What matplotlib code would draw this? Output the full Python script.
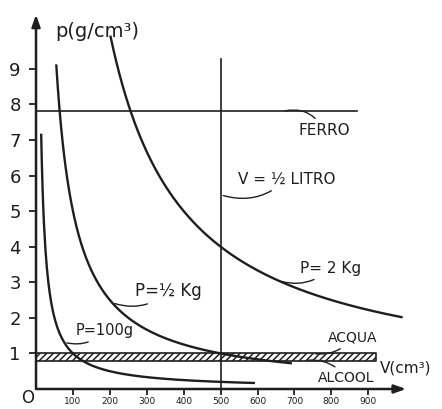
import numpy as np
import matplotlib
matplotlib.use("Agg")
import matplotlib.pyplot as plt

# Densità p = P / V per tre pesi diversi
weights_g = [100, 500, 2000]
weight_labels = ["P=100g", "P=½ Kg", "P= 2 Kg"]
v_start = [14, 55, 202]      # cm³
v_end = [590, 690, 990]      # cm³

ferro = 7.8      # g/cm³
acqua = 1.0
alcool = 0.8
band_end = 920
mezzo_litro = 500

x_ticks = [100, 200, 300, 400, 500, 600, 700, 800, 900]
y_ticks = [1, 2, 3, 4, 5, 6, 7, 8, 9]

ink = "#1e1e1e"
plt.rcParams["font.family"] = ["DejaVu Sans"]
plt.rcParams["hatch.linewidth"] = 1.1
plt.rcParams["hatch.color"] = ink

fig = plt.figure(figsize=(4.42, 4.09), dpi=100)
ax = fig.add_axes([0.0815, 0.0489, 0.925 - 0.0815, 0.971 - 0.0489])
xmax, ymax = 1010, 10.6
ax.set_xlim(0, xmax)
ax.set_ylim(0, ymax)
for s in ax.spines.values():
    s.set_visible(False)

# assi con freccia
ax.annotate("", xy=(0, ymax), xytext=(0, -0.08),
            arrowprops=dict(arrowstyle="-|>,head_length=0.7,head_width=0.25",
                            color=ink, lw=1.8), annotation_clip=False)
ax.annotate("", xy=(xmax, 0), xytext=(-5, 0),
            arrowprops=dict(arrowstyle="-|>,head_length=0.7,head_width=0.25",
                            color=ink, lw=1.8), annotation_clip=False)

ax.set_xticks(x_ticks)
ax.set_xticklabels([str(t) for t in x_ticks], fontsize=6.5, color=ink)
ax.set_yticks(y_ticks)
ax.set_yticklabels([str(t) for t in y_ticks], fontsize=13, color=ink)
ax.tick_params(axis="x", direction="out", length=4, width=1.3, pad=1.5, colors=ink)
ax.tick_params(axis="y", direction="out", length=5, width=1.3, pad=6, colors=ink)
ax.text(-22, -0.24, "O", fontsize=12, color=ink, ha="center", va="center",
        clip_on=False)

# banda acqua / alcool
ax.fill_between([0, band_end], alcool, acqua, facecolor="white",
                edgecolor=ink, hatch="/////", lw=1.2)

# linea del ferro
ax.plot([0, 870], [ferro, ferro], color=ink, lw=1.2)
# mezzo litro
ax.plot([mezzo_litro, mezzo_litro], [0, 9.27], color=ink, lw=1.2)

# iperboli p = P / V
for P, v0, v1 in zip(weights_g, v_start, v_end):
    v = np.linspace(v0, v1, 300)
    ax.plot(v, P / v, color=ink, lw=1.7)

lead = dict(arrowstyle="-", color=ink, lw=1.0, connectionstyle="arc3,rad=0.35")
fs = 11

def note(text, xy, xytext, rad=0.35, **kw):
    ax.annotate(text, xy=xy, xytext=xytext, fontsize=kw.pop("fontsize", fs),
                color=ink, va="center", ha="left",
                arrowprops=dict(lead, connectionstyle=f"arc3,rad={rad}"), **kw)

note("FERRO", (667, ferro), (710, 7.26), rad=0.4)
note("V = ½ LITRO", (mezzo_litro, 5.46), (547, 5.9), rad=-0.3)
note(weight_labels[2], (656, 2000 / 656), (715, 3.4), rad=-0.3)
note(weight_labels[1], (206, 500 / 206), (268, 2.75), rad=-0.3, fontsize=12)
note(weight_labels[0], (76, 100 / 76), (108, 1.64), rad=-0.3, fontsize=10.5)
note("ACQUA", (750, acqua), (790, 1.45), rad=-0.3, fontsize=10)
note("ALCOOL", (729, alcool), (764, 0.3), rad=0.3, fontsize=10)

ax.text(932, 0.6, "V(cm³)", fontsize=11, color=ink, va="center", ha="left",
        clip_on=False)
ax.text(51, 10.05, "p(g/cm³)", fontsize=14, color=ink, va="center", ha="left",
        clip_on=False)

fig.savefig("out.png", dpi=100, facecolor="white")
